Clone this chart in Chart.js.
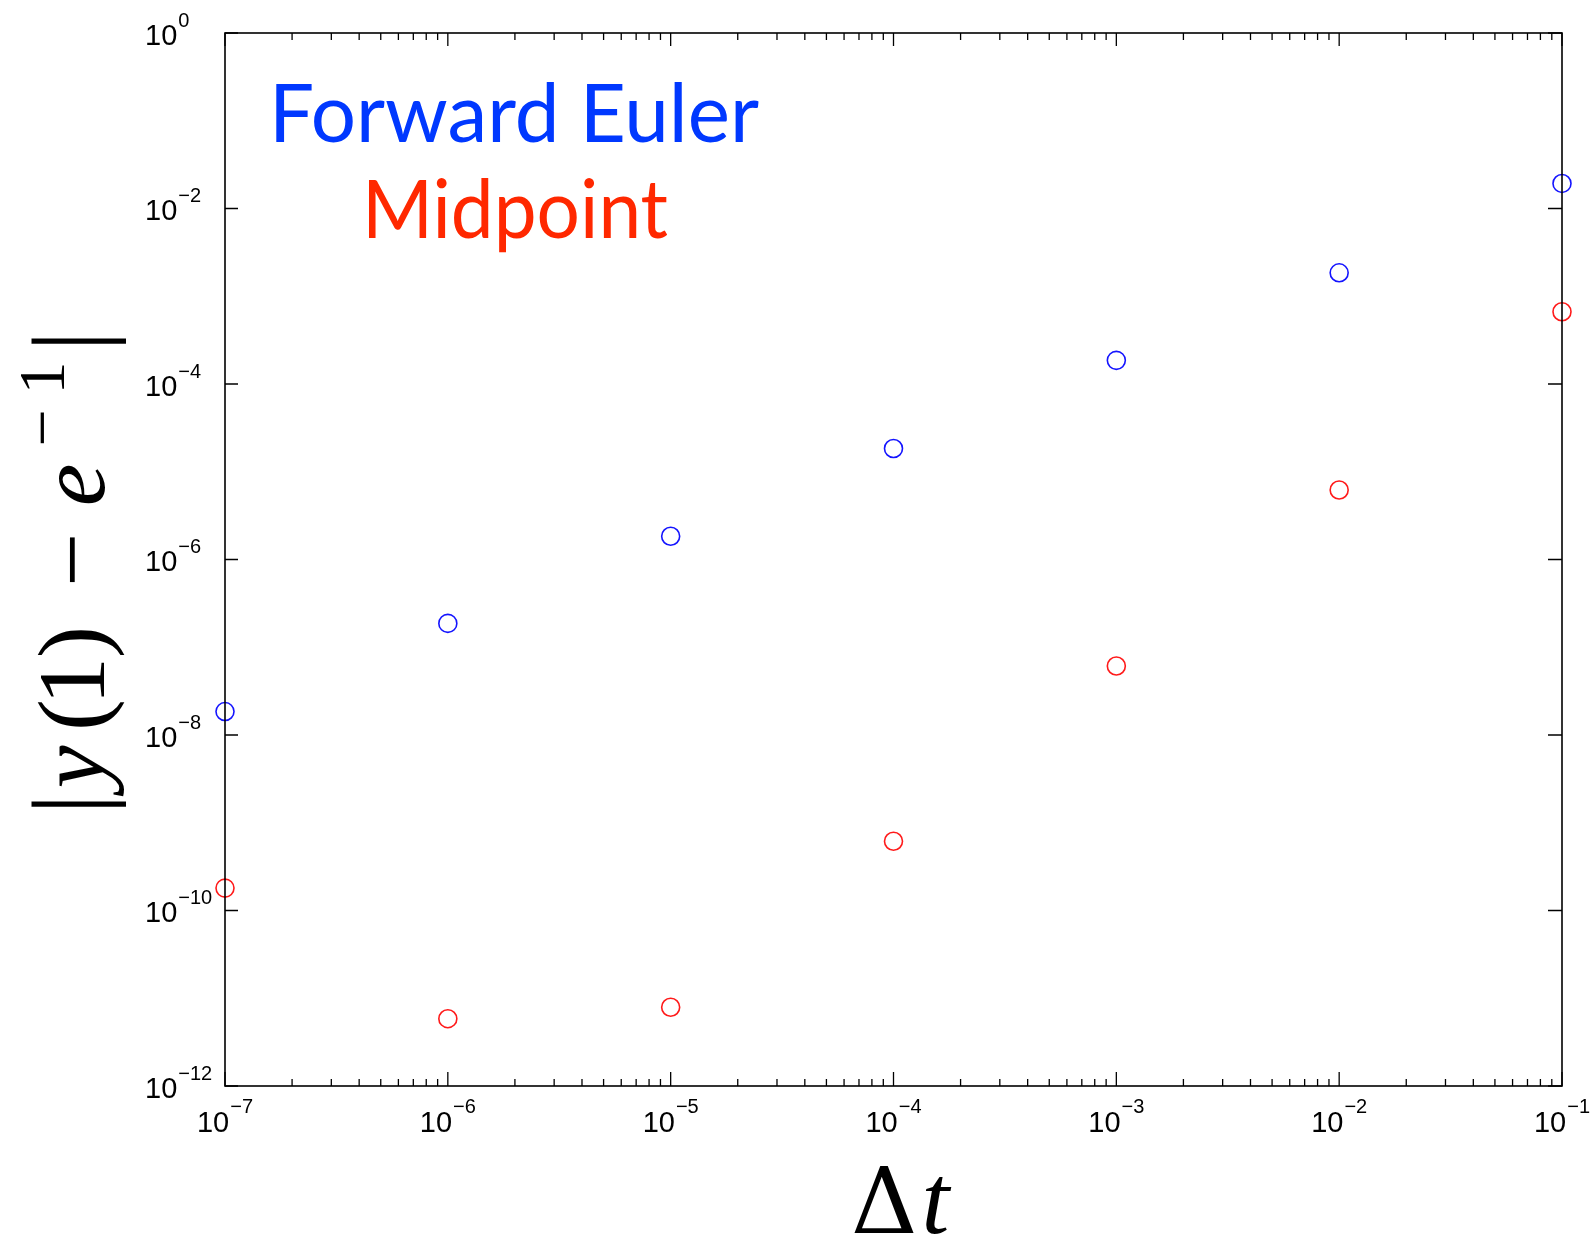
<!DOCTYPE html>
<html>
<head>
<meta charset="utf-8">
<script src="https://cdn.jsdelivr.net/npm/chart.js@4.4.1/dist/chart.umd.min.js"></script>
<style>
  html, body { margin: 0; padding: 0; background: #fff; }
  #wrap { width: 1591px; height: 1236px; position: relative; }
</style>
</head>
<body>
<div id="wrap"><canvas id="c" width="1591" height="1236"></canvas></div>
<script>
// ---- data ----
const dtValues = [1e-7, 1e-6, 1e-5, 1e-4, 1e-3, 1e-2, 1e-1];
const eulerErrors = [1.85e-8, 1.87e-7, 1.84e-6, 1.84e-5, 1.86e-4, 1.85e-3, 1.93e-2];
const midpointErrors = [1.8e-10, 5.85e-12, 7.9e-12, 6.15e-10, 6.12e-8, 6.2e-6, 6.65e-4];
const xTickExps = [-7, -6, -5, -4, -3, -2, -1];
const yTickExps = [0, -2, -4, -6, -8, -10, -12];
const seriesNames = ['Forward Euler', 'Midpoint'];

const BLUE = '#1414ff';
const RED = '#ff1a1a';

const pts = (xs, ys) => xs.map((v, i) => ({ x: v, y: ys[i] }));

const MINUS = '\u2212';

function drawPow(ctx, exp, x, baseY, expBaseY, mode) {
  const mainFont = '29px "Liberation Sans", Arial, sans-serif';
  const expFont = '20px "Liberation Sans", Arial, sans-serif';
  const expStr = (exp < 0 ? MINUS + Math.abs(exp) : String(exp));
  ctx.font = mainFont;
  const w10 = ctx.measureText('10').width;
  ctx.font = expFont;
  const we = ctx.measureText(expStr).width;
  const gap = 1;
  let start;
  if (mode === 'center') start = x - (w10 + gap + we) / 2;
  else start = x;
  ctx.textAlign = 'left';
  ctx.textBaseline = 'alphabetic';
  ctx.font = mainFont;
  ctx.fillText('10', start, baseY);
  ctx.font = expFont;
  ctx.fillText(expStr, start + w10 + gap, expBaseY);
}

const decor = {
  id: 'decor',
  afterDatasetsDraw(chart) {
    const { ctx, chartArea: a, scales } = chart;
    const xs = scales.x, ys = scales.y;
    ctx.save();
    ctx.strokeStyle = '#000';
    ctx.lineWidth = 1.6;
    ctx.strokeRect(a.left, a.top, a.right - a.left, a.bottom - a.top);
    ctx.lineWidth = 1.3;
    ctx.beginPath();
    for (let i = 0; i < xTickExps.length; i++) {
      const e = xTickExps[i];
      const px = xs.getPixelForValue(Math.pow(10, e));
      ctx.moveTo(px, a.bottom); ctx.lineTo(px, a.bottom - 14);
      ctx.moveTo(px, a.top); ctx.lineTo(px, a.top + 13);
      if (i < xTickExps.length - 1) {
        for (let k = 2; k <= 9; k++) {
          const mx = xs.getPixelForValue(k * Math.pow(10, e));
          ctx.moveTo(mx, a.bottom); ctx.lineTo(mx, a.bottom - 7);
          ctx.moveTo(mx, a.top); ctx.lineTo(mx, a.top + 7);
        }
      }
    }
    yTickExps.forEach(e => {
      const py = ys.getPixelForValue(Math.pow(10, e));
      ctx.moveTo(a.left, py); ctx.lineTo(a.left + 13, py);
      ctx.moveTo(a.right, py); ctx.lineTo(a.right - 14, py);
    });
    ctx.stroke();

    ctx.fillStyle = '#000';
    xTickExps.forEach(e => {
      const px = xs.getPixelForValue(Math.pow(10, e));
      drawPow(ctx, e, px, a.bottom + 46, a.bottom + 27, 'center');
    });
    yTickExps.forEach(e => {
      const py = ys.getPixelForValue(Math.pow(10, e));
      drawPow(ctx, e, 145, py + 11.5, py - 6.5, 'left');
    });

    // y axis title |y(1) - e^{-1}|
    ctx.save();
    ctx.translate(103.5, 805);
    ctx.rotate(-Math.PI / 2);
    ctx.textBaseline = 'alphabetic';
    ctx.textAlign = 'center';
    const up = '96px "Liberation Serif", "DejaVu Serif", serif';
    const it = 'italic 96px "Liberation Serif", "DejaVu Serif", serif';
    const bar = '104px "Liberation Serif", "DejaVu Serif", serif';
    const sup = '66px "Liberation Serif", "DejaVu Serif", serif';
    const parts = [
      ['|', bar, 1, 0],
      ['y', it, 38, 0],
      ['(', up, 90, 0],
      ['1', up, 124, 0],
      [')', up, 163, 0],
      [MINUS, up, 245, 0],
      ['e', it, 320, 0],
      [MINUS, sup, 377, -40],
      ['1', sup, 427, -40],
      ['|', bar, 464, 0]
    ];
    parts.forEach(([t, f, u, v]) => { ctx.font = f; ctx.fillText(t, u, v); });
    ctx.restore();

    // x axis title Δt
    ctx.textAlign = 'left';
    ctx.textBaseline = 'alphabetic';
    ctx.font = '92px "DejaVu Serif", "Liberation Serif", serif';
    const wd = ctx.measureText('\u0394').width;
    ctx.fillText('\u0394', 851, 1233);
    ctx.font = 'italic 100px "Liberation Serif", "DejaVu Serif", serif';
    ctx.fillText('t', 851 + wd + 4, 1233);

    // in-plot labels
    ctx.textAlign = 'center';
    ctx.font = '82px Lato, "Open Sans", sans-serif';
    ctx.fillStyle = '#0038ff';
    ctx.fillText(seriesNames[0], 514, 142, 490);
    ctx.fillStyle = '#ff2800';
    ctx.fillText(seriesNames[1], 515, 238, 306);
    ctx.restore();
  }
};

new Chart(document.getElementById('c'), {
  type: 'scatter',
  data: {
    datasets: [
      {
        label: seriesNames[0],
        data: pts(dtValues, eulerErrors),
        borderColor: BLUE,
        backgroundColor: 'rgba(0,0,0,0)',
        pointRadius: 9,
        pointBorderWidth: 1.6,
        clip: false
      },
      {
        label: seriesNames[1],
        data: pts(dtValues, midpointErrors),
        borderColor: RED,
        backgroundColor: 'rgba(0,0,0,0)',
        pointRadius: 9,
        pointBorderWidth: 1.6,
        clip: false
      }
    ]
  },
  options: {
    responsive: false,
    animation: false,
    events: [],
    devicePixelRatio: 1,
    layout: { padding: { left: 225, top: 33, right: 29, bottom: 150 } },
    plugins: { legend: { display: false }, tooltip: { enabled: false } },
    scales: {
      x: { type: 'logarithmic', min: 1e-7, max: 1e-1, display: false },
      y: { type: 'logarithmic', min: 1e-12, max: 1, display: false }
    }
  },
  plugins: [decor]
});
</script>
</body>
</html>
